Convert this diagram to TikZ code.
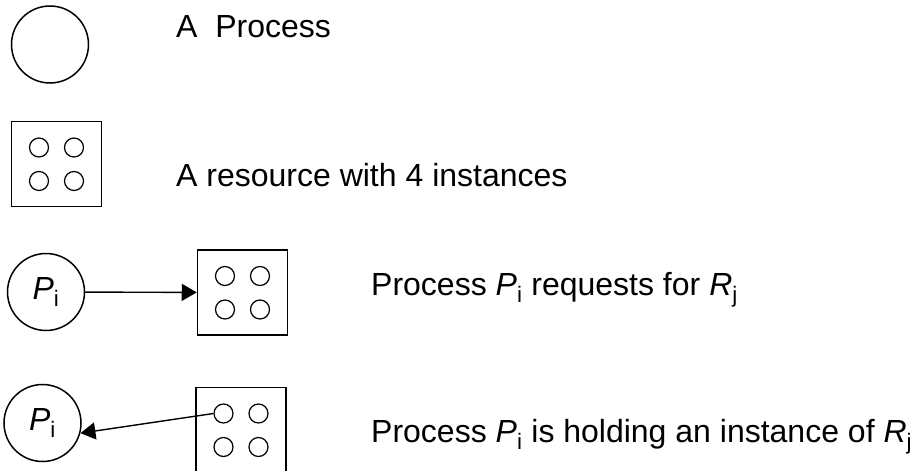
\documentclass[tikz,border=0pt]{standalone}
\usepackage{fontspec}
\setmainfont{Liberation Sans}
\usetikzlibrary{arrows.meta}

% process name with an index, as P_i
\newcommand{\pidx}[2]{\textit{#1}\textsubscript{#2}}

\begin{document}
\begin{tikzpicture}[x=1pt,y=-1pt,
  every node/.style={font=\fontsize{32}{38}\selectfont},
  process/.style={draw,circle,line width=1.5pt,minimum size=77pt,inner sep=0pt},
  resource/.style={draw,rectangle,line width=1.5pt,minimum width=90pt,minimum height=85pt,inner sep=0pt},
  inst/.style={draw,circle,line width=1.2pt,minimum size=19pt,inner sep=0pt},
  label/.style={anchor=base west,inner sep=0pt},
  edge/.style={line width=1.4pt,-{Triangle[length=15pt,width=17pt]}}]
\useasboundingbox (0,0) rectangle (913,471);

% processes
\node[process] (p1) at (50,44.5) {};
\node[process] (p3) at (46,292) {\pidx{P}{i}};
\node[process] (p4) at (42.5,423) {\pidx{P}{i}};

% resources, each with four instances
\foreach \r/\x/\y in {r2/56.5/164, r3/242.5/292.5, r4/241/430} {
  \node[resource] (\r) at (\x,\y) {};
  \node[inst] (\r-a) at ([shift={(-17.5,-16.5)}]\r.center) {};
  \node[inst] (\r-b) at ([shift={(17.5,-16.5)}]\r.center) {};
  \node[inst] (\r-c) at ([shift={(-17.5,17)}]\r.center) {};
  \node[inst] (\r-d) at ([shift={(17.5,17)}]\r.center) {};
}

% request and assignment edges
\draw[edge] (p3) -- (r3);
\draw[edge] (r4-a.west) -- (p4.-15);

% legend texts
\node[label] (t1) at (176,37) {A\ \ Process};
\node[label] (t2) at (176,186) {A resource with 4 instances};
\node[label] (t3) at (371,295) {Process \pidx{P}{i} requests for \pidx{R}{j}};
\node[label] (t4) at (371,442) {Process \pidx{P}{i} is holding an instance of \pidx{R}{j}};
\end{tikzpicture}
\end{document}
